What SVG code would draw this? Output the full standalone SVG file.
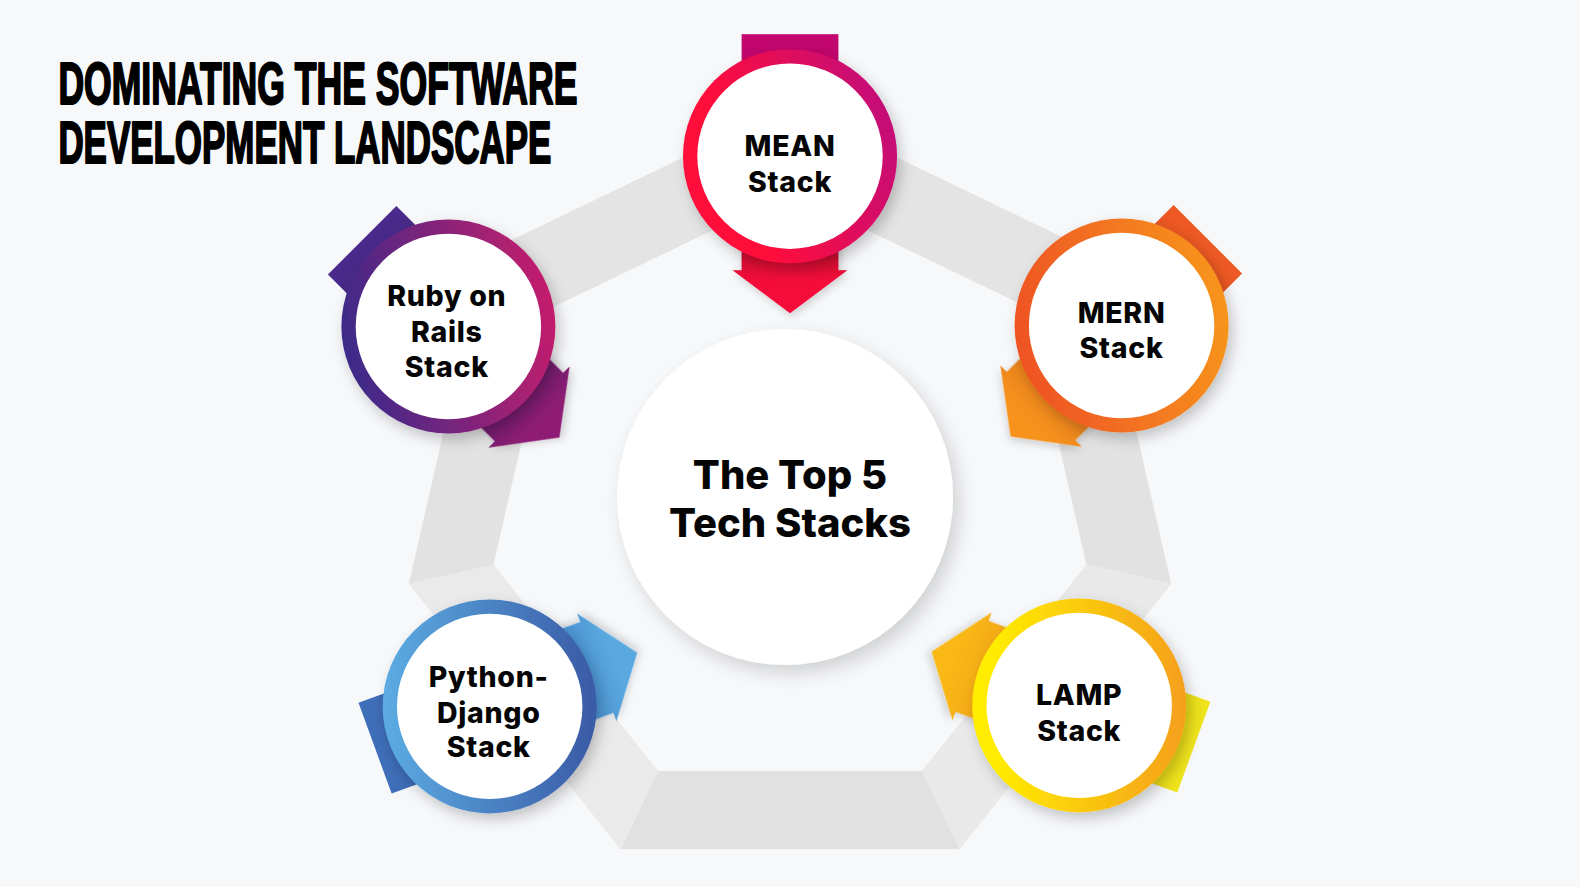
<svg xmlns="http://www.w3.org/2000/svg" width="1580" height="887" viewBox="0 0 1580 887">
  <defs>
    <style>
      .lbl { font-family: Inter, "Noto Sans", "DejaVu Sans", sans-serif; font-weight: 800; font-size: 28.5px; letter-spacing: 0.7px; fill: #050505; text-anchor: middle; }
      .ctr { font-family: Inter, "Noto Sans", "DejaVu Sans", sans-serif; font-weight: 800; font-size: 40px; fill: #050505; text-anchor: middle; }
      .ttl { font-family: "Liberation Sans", Arial, sans-serif; font-weight: 700; font-size: 59px; fill: #000; stroke: #000; stroke-width: 2.2px; stroke-linejoin: round; }
      .inner { fill: #ffffff; }
    </style>
    <filter id="shadow" x="-30%" y="-30%" width="160%" height="160%">
      <feDropShadow dx="4" dy="6" stdDeviation="7" flood-color="#000" flood-opacity="0.22"/>
    </filter>
    <filter id="shadowBig" x="-30%" y="-30%" width="160%" height="160%">
      <feDropShadow dx="6" dy="8" stdDeviation="9" flood-color="#000" flood-opacity="0.16"/>
    </filter>
    <filter id="shadowSm" x="-30%" y="-30%" width="160%" height="160%">
      <feDropShadow dx="2" dy="3" stdDeviation="4" flood-color="#000" flood-opacity="0.18"/>
    </filter>
    <linearGradient id="gMean" x1="0" y1="0.7" x2="1" y2="0.3">
      <stop offset="0.25" stop-color="#ff0a3a"/>
      <stop offset="1" stop-color="#c2077b"/>
    </linearGradient>
    <linearGradient id="gRuby" x1="0" y1="0.6" x2="1" y2="0.4">
      <stop offset="0" stop-color="#3a2a8a"/>
      <stop offset="1" stop-color="#c51e6c"/>
    </linearGradient>
    <linearGradient id="gMern" x1="0" y1="0.6" x2="1" y2="0.4">
      <stop offset="0" stop-color="#ee5224"/>
      <stop offset="1" stop-color="#f7951d"/>
    </linearGradient>
    <linearGradient id="gLamp" x1="0" y1="0.5" x2="1" y2="0.5">
      <stop offset="0.1" stop-color="#ffec00"/>
      <stop offset="1" stop-color="#f59f1c"/>
    </linearGradient>
    <linearGradient id="gPy" x1="0" y1="0.5" x2="1" y2="0.5">
      <stop offset="0" stop-color="#5cace3"/>
      <stop offset="1" stop-color="#3a5aa6"/>
    </linearGradient>
    <linearGradient id="hMean" x1="0" y1="0" x2="0" y2="1">
      <stop offset="0.6" stop-color="#c8082f"/>
      <stop offset="0.8" stop-color="#f4083a"/>
    </linearGradient>
    <linearGradient id="hRuby" x1="0" y1="0" x2="0" y2="1">
      <stop offset="0.6" stop-color="#6c1d6a"/>
      <stop offset="0.85" stop-color="#8e1f74"/>
    </linearGradient>
    <linearGradient id="hMern" x1="0" y1="0" x2="0" y2="1">
      <stop offset="0.6" stop-color="#e8801b"/>
      <stop offset="0.85" stop-color="#f7921e"/>
    </linearGradient>
    <linearGradient id="hLamp" x1="0" y1="0" x2="0" y2="1">
      <stop offset="0.6" stop-color="#f3a812"/>
      <stop offset="0.85" stop-color="#f9b817"/>
    </linearGradient>
    <linearGradient id="hPy" x1="0" y1="0" x2="0" y2="1">
      <stop offset="0.6" stop-color="#4a93d2"/>
      <stop offset="0.85" stop-color="#5aa8e0"/>
    </linearGradient>
    <linearGradient id="tMean" x1="0" y1="0" x2="0" y2="1">
      <stop offset="0" stop-color="#c4066f"/>
      <stop offset="1" stop-color="#a8055f"/>
    </linearGradient>
    <linearGradient id="tRuby" x1="0" y1="0" x2="0" y2="1">
      <stop offset="0" stop-color="#4b2a8c"/>
      <stop offset="1" stop-color="#352274"/>
    </linearGradient>
    <linearGradient id="tMern" x1="0" y1="0" x2="0" y2="1">
      <stop offset="0" stop-color="#ef5a24"/>
      <stop offset="1" stop-color="#cf4619"/>
    </linearGradient>
    <linearGradient id="tLamp" x1="0" y1="0" x2="0" y2="1">
      <stop offset="0" stop-color="#f0e41c"/>
      <stop offset="1" stop-color="#d9ca10"/>
    </linearGradient>
    <linearGradient id="tPy" x1="0" y1="0" x2="0" y2="1">
      <stop offset="0" stop-color="#3f6fba"/>
      <stop offset="1" stop-color="#335a9c"/>
    </linearGradient>
    <rect id="tailShape" x="-48.4" y="-122" width="96.8" height="122"/>
    <path id="headShape" d="M-48.4,0 L48.4,0 L48.4,114 L57.4,114 L0,157 L-57.4,114 L-48.4,114 Z"/>
  </defs>

  <rect x="0" y="0" width="1580" height="887" fill="#f7f8fa"/>

  <!-- Heptagon band -->
  <g id="band">
    <polygon points="790,106 1095.7,253.2 1027.7,307.5 790,193" fill="#e4e4e4"/>
    <polygon points="1095.7,253.2 1171.2,584 1086.4,564.6 1027.7,307.5" fill="#e2e2e2"/>
    <polygon points="1171.2,584 959.6,849.3 921.9,770.9 1086.4,564.6" fill="#e9e9e9"/>
    <polygon points="959.6,849.3 620.4,849.3 658.1,770.9 921.9,770.9" fill="#e1e1e1"/>
    <polygon points="620.4,849.3 408.8,584 493.6,564.6 658.1,770.9" fill="#eaeaea"/>
    <polygon points="408.8,584 484.3,253.2 552.3,307.5 493.6,564.6" fill="#e2e2e2"/>
    <polygon points="484.3,253.2 790,106 790,193 552.3,307.5" fill="#e4e4e4"/>
  </g>

  <!-- Title -->
  <g id="title">
    <text class="ttl" x="58.4" y="103.8" textLength="519" lengthAdjust="spacingAndGlyphs">DOMINATING THE SOFTWARE</text>
    <text class="ttl" x="58.4" y="163.2" textLength="493" lengthAdjust="spacingAndGlyphs">DEVELOPMENT LANDSCAPE</text>
  </g>

  <!-- Center -->
  <g id="center">
    <circle cx="785" cy="497" r="168" fill="#ffffff" filter="url(#shadowBig)"/>
    <text class="ctr" x="790" y="488.5">The Top 5</text>
    <text class="ctr" x="790" y="537">Tech Stacks</text>
  </g>

  <!-- Connectors (arrows passing through nodes) -->
  <g id="connectors">
    <g transform="translate(790,156.2) rotate(0)">
      <use href="#tailShape" fill="url(#tMean)"/>
      <use href="#headShape" fill="url(#hMean)" filter="url(#shadowSm)"/>
    </g>
    <g transform="translate(448.4,326.5) rotate(-45)">
      <use href="#tailShape" fill="url(#tRuby)"/>
      <use href="#headShape" fill="url(#hRuby)" filter="url(#shadowSm)"/>
    </g>
    <g transform="translate(1121.6,325.5) rotate(45)">
      <use href="#tailShape" fill="url(#tMern)"/>
      <use href="#headShape" fill="url(#hMern)" filter="url(#shadowSm)"/>
    </g>
    <g transform="translate(1079.2,705.4) rotate(110)">
      <use href="#tailShape" fill="url(#tLamp)"/>
      <use href="#headShape" fill="url(#hLamp)" filter="url(#shadowSm)"/>
    </g>
    <g transform="translate(489.7,706.4) rotate(-110)">
      <use href="#tailShape" fill="url(#tPy)"/>
      <use href="#headShape" fill="url(#hPy)" filter="url(#shadowSm)"/>
    </g>
  </g>

  <!-- Nodes -->
  <g id="node-mean">
    <circle cx="790" cy="156.2" r="107" fill="url(#gMean)" filter="url(#shadow)"/>
    <circle class="inner" cx="790" cy="156.2" r="92.7"/>
    <text class="lbl" x="790" y="156.2">MEAN</text>
    <text class="lbl" x="790" y="191.5">Stack</text>
  </g>
  <g id="node-ruby">
    <circle cx="448.4" cy="326.5" r="107" fill="url(#gRuby)" filter="url(#shadow)"/>
    <circle class="inner" cx="448.4" cy="326.5" r="92.7"/>
    <text class="lbl" x="446.8" y="306.3">Ruby on</text>
    <text class="lbl" x="446.8" y="341.6">Rails</text>
    <text class="lbl" x="446.8" y="376.9">Stack</text>
  </g>
  <g id="node-mern">
    <circle cx="1121.6" cy="325.5" r="107" fill="url(#gMern)" filter="url(#shadow)"/>
    <circle class="inner" cx="1121.6" cy="325.5" r="92.7"/>
    <text class="lbl" x="1121.6" y="322.5">MERN</text>
    <text class="lbl" x="1121.6" y="357.7">Stack</text>
  </g>
  <g id="node-lamp">
    <circle cx="1079.2" cy="705.4" r="107" fill="url(#gLamp)" filter="url(#shadow)"/>
    <circle class="inner" cx="1079.2" cy="705.4" r="92.7"/>
    <text class="lbl" x="1079.2" y="705.4">LAMP</text>
    <text class="lbl" x="1079.2" y="740.7">Stack</text>
  </g>
  <g id="node-python">
    <circle cx="489.7" cy="706.4" r="107" fill="url(#gPy)" filter="url(#shadow)"/>
    <circle class="inner" cx="489.7" cy="706.4" r="92.7"/>
    <text class="lbl" x="488.7" y="687.3">Python-</text>
    <text class="lbl" x="488.7" y="722.6">Django</text>
    <text class="lbl" x="488.7" y="756.8">Stack</text>
  </g>
</svg>
